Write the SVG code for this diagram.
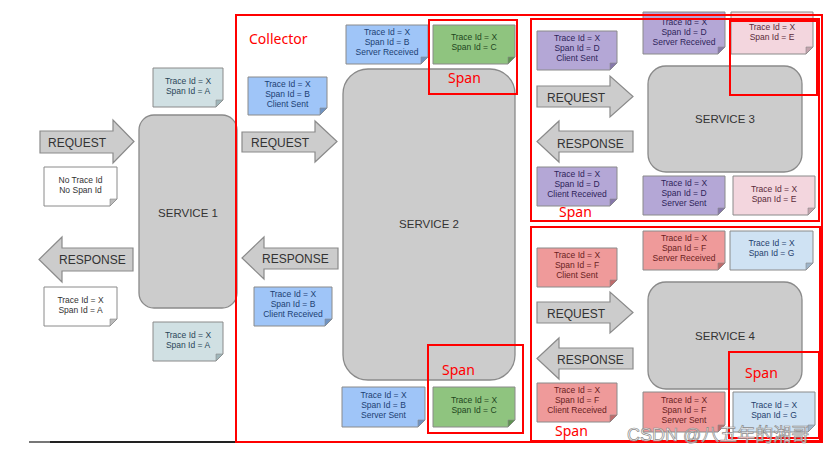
<svg xmlns="http://www.w3.org/2000/svg" width="836" height="453" viewBox="0 0 836 453">
<style>
.svc{fill:#cccccc;stroke:#8a8a8a;stroke-width:1.3}
.svct{font-family:"Liberation Sans",Arial,sans-serif;font-size:11.5px;fill:#333;text-anchor:middle}
.arr{fill:#cccccc;stroke:#8a8a8a;stroke-width:1.2}
.arrt{font-family:"Liberation Sans",Arial,sans-serif;font-size:12px;fill:#333}
.nb{stroke:#8a8a8a;stroke-width:1}
.fold{stroke:#8a8a8a;stroke-width:0.6}
.nt{font-family:"Liberation Sans",Arial,sans-serif;font-size:8.5px;text-anchor:middle}
.teal .nb{fill:#d0e0e3}.teal .fold{fill:#9fb6ba}.teal text{fill:#2a4658}
.white .nb{fill:#ffffff}.white .fold{fill:#bbbbbb}.white text{fill:#333}
.blue .nb{fill:#9fc5f8}.blue .fold{fill:#6f93c2}.blue text{fill:#1c3f73}
.green .nb{fill:#8fc47f}.green .fold{fill:#5f9352}.green text{fill:#1e4620}
.purple .nb{fill:#b4a7d6}.purple .fold{fill:#8577aa}.purple text{fill:#2e2459}
.pink .nb{fill:#f3d6de}.pink .fold{fill:#c3a3ad}.pink text{fill:#5a2a3a}
.red .nb{fill:#ef9a9a}.red .fold{fill:#bf6b6b}.red text{fill:#6a1e1e}
.lblue .nb{fill:#cfe2f3}.lblue .fold{fill:#9db4c9}.lblue text{fill:#1f3f6e}
.rb{fill:none;stroke:#ff0000;stroke-width:2}
.rt{font-family:"Noto Sans","Liberation Sans",sans-serif;font-size:14px;fill:#ff0000}
</style>

<!-- stray bottom line -->
<line x1="29" y1="442" x2="50" y2="442" stroke="#777" stroke-width="2"/>
<line x1="50" y1="442" x2="600" y2="442" stroke="#222" stroke-width="2"/>

<!-- services -->
<g id="service1"><rect class="svc" x="139" y="115" width="98" height="193" rx="15"/><text class="svct" x="188" y="217">SERVICE 1</text></g>
<g id="service2"><rect class="svc" x="343" y="69" width="172" height="311" rx="25"/><text class="svct" x="429" y="228">SERVICE 2</text></g>
<g id="service3"><rect class="svc" x="648" y="66" width="154" height="106" rx="18"/><text class="svct" x="725" y="123">SERVICE 3</text></g>
<g id="service4"><rect class="svc" x="648" y="282" width="154" height="107" rx="18"/><text class="svct" x="725" y="340">SERVICE 4</text></g>

<!-- connectors (request / response arrows) -->
<g id="connectors">
<g id="req1"><path class="arr" d="M40,131H113V120L134,141.5L113,163V153H40Z"/><text class="arrt" x="48" y="146.5">REQUEST</text></g>
<g id="resp1"><path class="arr" d="M133,248H62V237L39,259.5L62,282V271H133Z"/><text class="arrt" x="59" y="263.5">RESPONSE</text></g>
<g id="req2"><path class="arr" d="M242,132H315V121L337,141.5L315,162V152H242Z"/><text class="arrt" x="251" y="146.5">REQUEST</text></g>
<g id="resp2"><path class="arr" d="M338,248H264V237L242,258L264,279V269H338Z"/><text class="arrt" x="262" y="262.5">RESPONSE</text></g>
<g id="req3"><path class="arr" d="M537,86H610V76L633,96.5L610,117V107H537Z"/><text class="arrt" x="547" y="101.5">REQUEST</text></g>
<g id="resp3"><path class="arr" d="M633,131H559V121L537,141.5L559,162V152H633Z"/><text class="arrt" x="557" y="147.5">RESPONSE</text></g>
<g id="req4"><path class="arr" d="M537,302H610V292L633,312.5L610,333V323H537Z"/><text class="arrt" x="547" y="317.5">REQUEST</text></g>
<g id="resp4"><path class="arr" d="M633,348H559V338L537,358.5L559,379V369H633Z"/><text class="arrt" x="557" y="363.5">RESPONSE</text></g>
</g>

<!-- notes -->
<g id="note-s1-top" class="teal" transform="translate(153,68)"><path class="nb" d="M0,0H70V32L63,39H0Z"/><path class="fold" d="M70,32L63,32L63,39Z"/><text class="nt" x="35" y="16">Trace Id = X</text><text class="nt" x="35" y="26">Span Id = A</text></g>
<g id="note-s1-none" class="white" transform="translate(44,167)"><path class="nb" d="M0,0H73V32L66,39H0Z"/><path class="fold" d="M73,32L66,32L66,39Z"/><text class="nt" x="36.5" y="16">No Trace Id</text><text class="nt" x="36.5" y="26">No Span Id</text></g>
<g id="note-s1-resp" class="white" transform="translate(44,287)"><path class="nb" d="M0,0H73V32L66,39H0Z"/><path class="fold" d="M73,32L66,32L66,39Z"/><text class="nt" x="36.5" y="16">Trace Id = X</text><text class="nt" x="36.5" y="26">Span Id = A</text></g>
<g id="note-s1-bottom" class="teal" transform="translate(153,322)"><path class="nb" d="M0,0H70V32L63,39H0Z"/><path class="fold" d="M70,32L63,32L63,39Z"/><text class="nt" x="35" y="16">Trace Id = X</text><text class="nt" x="35" y="26">Span Id = A</text></g>

<g id="note-b-cs" class="blue" transform="translate(248,77)"><path class="nb" d="M0,0H79V31L72,38H0Z"/><path class="fold" d="M79,31L72,31L72,38Z"/><text class="nt" x="39.5" y="10">Trace Id = X</text><text class="nt" x="39.5" y="20">Span Id = B</text><text class="nt" x="39.5" y="30">Client Sent</text></g>
<g id="note-b-sr" class="blue" transform="translate(346,25)"><path class="nb" d="M0,0H82V32L75,39H0Z"/><path class="fold" d="M82,32L75,32L75,39Z"/><text class="nt" x="41" y="10">Trace Id = X</text><text class="nt" x="41" y="20">Span Id = B</text><text class="nt" x="41" y="30">Server Received</text></g>
<g id="note-c-top" class="green" transform="translate(433,25)"><path class="nb" d="M0,0H82V32L75,39H0Z"/><path class="fold" d="M82,32L75,32L75,39Z"/><text class="nt" x="41" y="15">Trace Id = X</text><text class="nt" x="41" y="25">Span Id = C</text></g>
<g id="note-b-cr" class="blue" transform="translate(254,287)"><path class="nb" d="M0,0H78V32L71,39H0Z"/><path class="fold" d="M78,32L71,32L71,39Z"/><text class="nt" x="39" y="10">Trace Id = X</text><text class="nt" x="39" y="20">Span Id = B</text><text class="nt" x="39" y="30">Client Received</text></g>
<g id="note-b-ss" class="blue" transform="translate(342,387)"><path class="nb" d="M0,0H83V33L76,40H0Z"/><path class="fold" d="M83,33L76,33L76,40Z"/><text class="nt" x="41.5" y="10.5">Trace Id = X</text><text class="nt" x="41.5" y="20.5">Span Id = B</text><text class="nt" x="41.5" y="30.5">Server Sent</text></g>
<g id="note-c-bottom" class="green" transform="translate(433,387)"><path class="nb" d="M0,0H82V33L75,40H0Z"/><path class="fold" d="M82,33L75,33L75,40Z"/><text class="nt" x="41" y="16">Trace Id = X</text><text class="nt" x="41" y="26">Span Id = C</text></g>

<g id="note-d-cs" class="purple" transform="translate(537,31)"><path class="nb" d="M0,0H80V32L73,39H0Z"/><path class="fold" d="M80,32L73,32L73,39Z"/><text class="nt" x="40" y="10">Trace Id = X</text><text class="nt" x="40" y="20">Span Id = D</text><text class="nt" x="40" y="30">Client Sent</text></g>
<g id="note-d-sr" class="purple" transform="translate(643,12)"><path class="nb" d="M0,0H82V35L75,42H0Z"/><path class="fold" d="M82,35L75,35L75,42Z"/><text class="nt" x="41" y="13">Trace Id = X</text><text class="nt" x="41" y="23">Span Id = D</text><text class="nt" x="41" y="32.5">Server Received</text></g>
<g id="note-e-top" class="pink" transform="translate(731,12)"><path class="nb" d="M0,0H82V35L75,42H0Z"/><path class="fold" d="M82,35L75,35L75,42Z"/><text class="nt" x="41" y="18">Trace Id = X</text><text class="nt" x="41" y="28">Span Id = E</text></g>
<g id="note-d-cr" class="purple" transform="translate(537,167)"><path class="nb" d="M0,0H80V32L73,39H0Z"/><path class="fold" d="M80,32L73,32L73,39Z"/><text class="nt" x="40" y="10">Trace Id = X</text><text class="nt" x="40" y="20">Span Id = D</text><text class="nt" x="40" y="30">Client Received</text></g>
<g id="note-d-ss" class="purple" transform="translate(643,176)"><path class="nb" d="M0,0H82V32L75,39H0Z"/><path class="fold" d="M82,32L75,32L75,39Z"/><text class="nt" x="41" y="10">Trace Id = X</text><text class="nt" x="41" y="20">Span Id = D</text><text class="nt" x="41" y="30">Server Sent</text></g>
<g id="note-e-bottom" class="pink" transform="translate(733,176)"><path class="nb" d="M0,0H82V32L75,39H0Z"/><path class="fold" d="M82,32L75,32L75,39Z"/><text class="nt" x="41" y="15.5">Trace Id = X</text><text class="nt" x="41" y="25.5">Span Id = E</text></g>

<g id="note-f-cs" class="red" transform="translate(537,248)"><path class="nb" d="M0,0H80V32L73,39H0Z"/><path class="fold" d="M80,32L73,32L73,39Z"/><text class="nt" x="40" y="10">Trace Id = X</text><text class="nt" x="40" y="20">Span Id = F</text><text class="nt" x="40" y="30">Client Sent</text></g>
<g id="note-f-sr" class="red" transform="translate(643,231)"><path class="nb" d="M0,0H82V32L75,39H0Z"/><path class="fold" d="M82,32L75,32L75,39Z"/><text class="nt" x="41" y="10">Trace Id = X</text><text class="nt" x="41" y="20">Span Id = F</text><text class="nt" x="41" y="30">Server Received</text></g>
<g id="note-g-top" class="lblue" transform="translate(730,231)"><path class="nb" d="M0,0H83V32L76,39H0Z"/><path class="fold" d="M83,32L76,32L76,39Z"/><text class="nt" x="41.5" y="15">Trace Id = X</text><text class="nt" x="41.5" y="25">Span Id = G</text></g>
<g id="note-f-cr" class="red" transform="translate(537,383)"><path class="nb" d="M0,0H80V32L73,39H0Z"/><path class="fold" d="M80,32L73,32L73,39Z"/><text class="nt" x="40" y="10">Trace Id = X</text><text class="nt" x="40" y="20">Span Id = F</text><text class="nt" x="40" y="30">Client Received</text></g>
<g id="note-f-ss" class="red" transform="translate(643,392)"><path class="nb" d="M0,0H82V33L75,40H0Z"/><path class="fold" d="M82,33L75,33L75,40Z"/><text class="nt" x="41" y="10.5">Trace Id = X</text><text class="nt" x="41" y="20.5">Span Id = F</text><text class="nt" x="41" y="30.5">Server Sent</text></g>
<g id="note-g-bottom" class="lblue" transform="translate(733,392)"><path class="nb" d="M0,0H82V33L75,40H0Z"/><path class="fold" d="M82,33L75,33L75,40Z"/><text class="nt" x="41" y="16">Trace Id = X</text><text class="nt" x="41" y="26">Span Id = G</text></g>

<!-- red annotation boxes -->
<g id="collector"><rect class="rb" x="236" y="15" width="586" height="427"/><text class="rt" x="249" y="44">Collector</text></g>
<g id="span-box-s3"><rect class="rb" x="531" y="19" width="288" height="202"/><text class="rt" x="559" y="217">Span</text></g>
<g id="span-box-s4"><rect class="rb" x="531" y="227" width="289" height="214"/><text class="rt" x="555" y="436">Span</text></g>
<g id="span-s2-top"><rect class="rb" x="429" y="20" width="88" height="74"/><text class="rt" x="448" y="83">Span</text></g>
<g id="span-s2-bottom"><rect class="rb" x="428" y="345" width="95" height="88"/><text class="rt" x="442" y="375">Span</text></g>
<g id="span-s3-top"><rect class="rb" x="730" y="21" width="87" height="74"/></g>
<g id="span-s4-bottom"><rect class="rb" x="729" y="352" width="90" height="86"/><text class="rt" x="745" y="378">Span</text></g>

<!-- watermark -->
<text x="627" y="441" font-family="'Liberation Sans','Noto Sans CJK SC',sans-serif" font-size="18" fill="#ffffff" fill-opacity="0.75" stroke="#8a8a8a" stroke-width="0.7">CSDN @八五年的湘哥</text>
</svg>
